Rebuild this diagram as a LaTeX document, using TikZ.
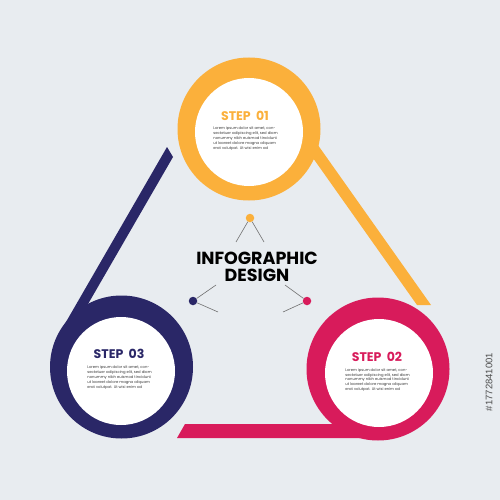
\documentclass[tikz,border=0pt]{standalone}
\usepackage{fontspec}
\setmainfont{Poppins}
\newfontfamily\idfont{Liberation Sans}
\definecolor{bg}{HTML}{E8ECF0}
\definecolor{ylw}{HTML}{FBB03B}
\definecolor{nvy}{HTML}{2A2767}
\definecolor{pnk}{HTML}{D81B5B}
\definecolor{txt}{HTML}{3A3A3A}
\definecolor{lnk}{HTML}{6F6F6F}
\begin{document}
\begin{tikzpicture}[x=1pt,y=-1pt,
  steptitle/.style={font=\fontsize{12.5}{12.5}\selectfont\bfseries, inner sep=0},
  lorem/.style={font=\fontsize{3.75}{4.8}\selectfont, text=txt, align=left, inner sep=0},
  ring/.style={circle, minimum size=143pt, inner sep=0},
  hole/.style={circle, fill=white, minimum size=108pt, inner sep=0},
  dot/.style={circle, minimum size=8.5pt, inner sep=0},
  link/.style={draw=lnk, line width=0.6pt}]
\fill[bg] (0,0) rectangle (500,500);
\useasboundingbox (0,0) rectangle (500,500);
% bands
\fill[ylw] (308,131) -- (320,148) -- (431,305) -- (417,305) -- (313,158) -- (300,140) -- cycle;
\fill[nvy] (167,147) -- (173,157) -- (73,330) -- (58,336) -- (60.5,331.5) -- cycle;
\fill[pnk] (177,438) -- (185,424) -- (360,424) -- (360,438) -- cycle;
% rings
\node[ring, fill=ylw] (c1) at (249,129) {};
\node[hole] (h1) at (249,132) {};
\node[ring, fill=nvy] (c3) at (121.5,367) {};
\node[hole] (h3) at (121,371) {};
\node[ring, fill=pnk] (c2) at (378,369) {};
\node[hole] (h2) at (379,373) {};
% texts
\def\loremtext{Lorem ipsum dolor sit amet, con-\\sectetuer adipiscing elit, sed diam\\nonummy nibh euismod tincidunt\\ut laoreet dolore magna aliquam\\erat volutpat. Ut wisi enim ad}
\node[steptitle, text=ylw] (t1) at (245,116) {STEP\ \ 01};
\node[lorem] (l1) at (245.5,138.5) {\loremtext};
\node[steptitle, text=nvy] (t3) at (119,354) {STEP\ \ 03};
\node[lorem] (l3) at (119.5,377.5) {\loremtext};
\node[steptitle, text=pnk] (t2) at (377,357) {STEP\ \ 02};
\node[lorem] (l2) at (377.5,380) {\loremtext};
% centre
\node[font=\fontsize{17.5}{17}\selectfont\bfseries, align=center, inner sep=0, text=black] (title) at (257,267) {INFOGRAPHIC\\DESIGN};
\node[dot, fill=ylw] (d1) at (250,218) {};
\node[dot, fill=nvy] (d3) at (193,301) {};
\node[dot, fill=pnk] (d2) at (307,301) {};
\coordinate (a1) at (236,242);
\coordinate (b1) at (264,242);
\coordinate (a3) at (216,285);
\coordinate (b3) at (218,312);
\coordinate (a2) at (285,285);
\coordinate (b2) at (283,312);
\draw[link] (d1) -- (a1);
\draw[link] (d1) -- (b1);
\draw[link] (d3) -- (a3);
\draw[link] (d3) -- (b3);
\draw[link] (d2) -- (a2);
\draw[link] (d2) -- (b2);
\node[font=\idfont\fontsize{9.5}{9.5}\selectfont, text=black!70, rotate=90, inner sep=0] (id) at (489,382) {\#1772841001};
\end{tikzpicture}
\end{document}
